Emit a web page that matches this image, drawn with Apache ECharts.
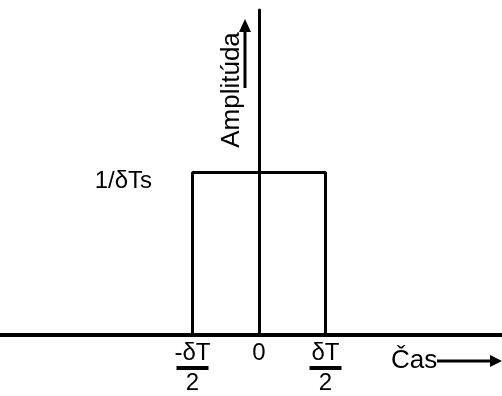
<!DOCTYPE html>
<html>
<head>
<meta charset="utf-8">
<style>
html,body{margin:0;padding:0;background:#fff;}
#c{width:502px;height:396px;}
</style>
<script src="https://cdn.jsdelivr.net/npm/echarts@6/dist/echarts.min.js"></script>
</head>
<body>
<div id="c"></div>
<script>
// Data
var pulseX = [-1, -1, 1, 1];
var pulseY = [0, 1, 1, 0];
var xTickValues = [-1, 0, 1];
var xTickNumerators = ['-δT', '0', 'δT'];
var xTickDenominators = ['2', '', '2'];
var yTickValues = [1];
var yTickLabels = ['1/δTs'];
var xName = 'Čas';
var yName = 'Amplitúda';

var FONT = '"Liberation Sans", Arial, Helvetica, sans-serif';
var chart = echarts.init(document.getElementById('c'), null, {renderer: 'canvas'});

var pulseData = pulseX.map(function (x, i) { return [x, pulseY[i]]; });

chart.setOption({
  animation: false,
  backgroundColor: '#fff',
  grid: {left: 0, right: 0, top: 10, bottom: 61, containLabel: false, outerBoundsMode: 'none'},
  xAxis: {
    type: 'value',
    min: -3.895,
    max: 3.654,
    splitLine: {show: false},
    axisTick: {show: false},
    axisLine: {onZero: true, lineStyle: {color: '#000', width: 4}},
    axisLabel: {
      customValues: xTickValues,
      margin: 8,
      color: '#000',
      fontFamily: FONT,
      fontSize: 24,
      formatter: function (v) {
        var i = xTickValues.indexOf(v);
        if (i < 0) return '';
        if (!xTickDenominators[i]) return '{n|' + xTickNumerators[i] + '}';
        return '{n|' + xTickNumerators[i] + '}\n{bar| }\n{n|' + xTickDenominators[i] + '}';
      },
      rich: {
        n: {fontSize: 24, lineHeight: 20, fontFamily: FONT, color: '#000', align: 'center'},
        bar: {width: 32, height: 4, lineHeight: 10, backgroundColor: '#000', fontSize: 2, align: 'center'}
      }
    }
  },
  yAxis: {
    type: 'value',
    min: 0,
    max: 2.0,
    splitLine: {show: false},
    axisTick: {show: false},
    axisLine: {onZero: true, lineStyle: {color: '#000', width: 3}},
    axisLabel: {
      customValues: yTickValues,
      margin: -152,
      color: '#000',
      fontFamily: FONT,
      fontSize: 24,
      verticalAlign: 'top',
      lineHeight: 18,
      formatter: function (v) {
        var i = yTickValues.indexOf(v);
        return i < 0 ? '' : yTickLabels[i];
      }
    }
  },
  series: [{
    type: 'line',
    data: pulseData,
    symbol: 'none',
    lineStyle: {color: '#000', width: 3},
    z: 3
  }],
  graphic: [
    {
      type: 'text',
      x: 232, y: 90,
      rotation: Math.PI / 2,
      style: {text: yName, font: '26px ' + FONT, fill: '#000', align: 'center', verticalAlign: 'middle'}
    },
    {type: 'line', shape: {x1: 245, y1: 88, x2: 245, y2: 30}, style: {stroke: '#000', lineWidth: 3}},
    {type: 'polygon', shape: {points: [[239, 32], [251, 32], [245, 19]]}, style: {fill: '#000'}},
    {
      type: 'text',
      x: 391, y: 361,
      style: {text: xName, font: '26px ' + FONT, fill: '#000', align: 'left', verticalAlign: 'middle'}
    },
    {type: 'line', shape: {x1: 437, y1: 361, x2: 492, y2: 361}, style: {stroke: '#000', lineWidth: 3}},
    {type: 'polygon', shape: {points: [[490, 355], [490, 367], [502, 361]]}, style: {fill: '#000'}}
  ]
});
</script>
</body>
</html>
